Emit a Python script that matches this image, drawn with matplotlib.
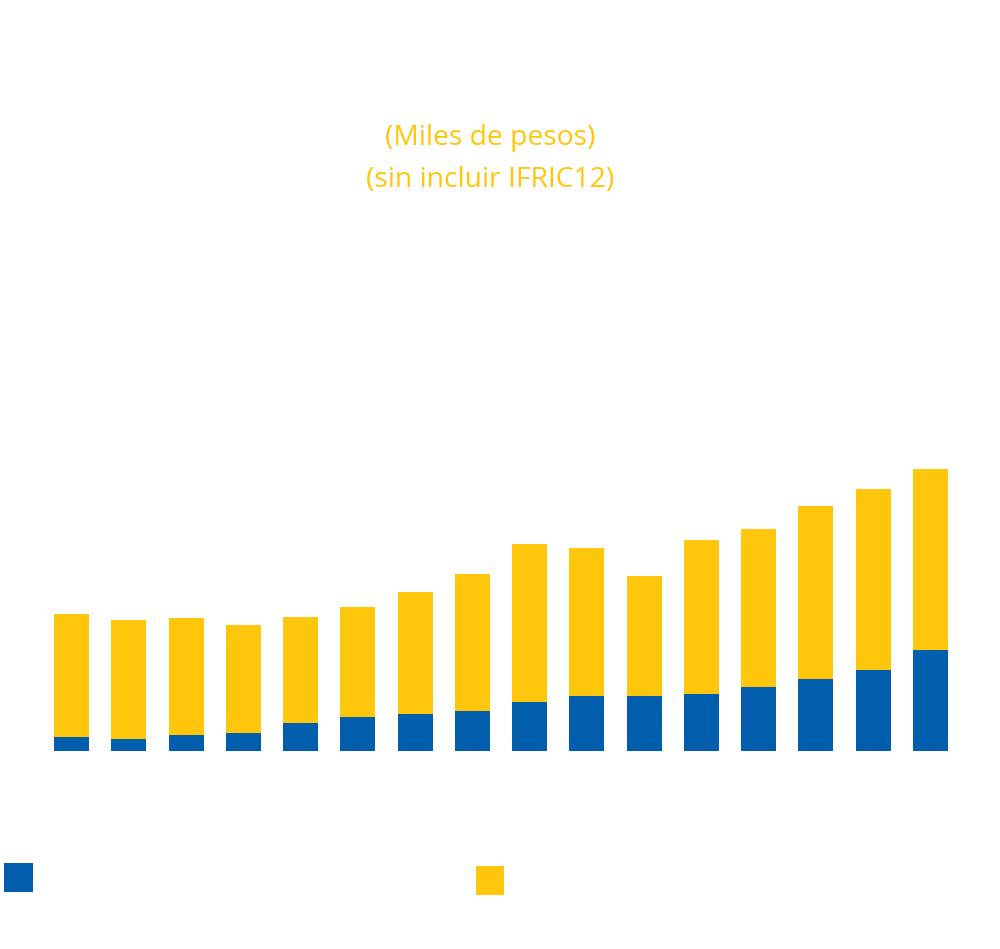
import matplotlib
matplotlib.use("Agg")
import matplotlib.pyplot as plt
from matplotlib.patches import Rectangle
import numpy as np

# Data (arbitrary units)
categories = [str(i) for i in range(1, 17)]
serie_azul = [143, 117, 157, 177, 277, 337, 367, 397, 490, 547, 547, 573, 637, 723, 813, 1010]
serie_amarilla = [1224, 1190, 1170, 1083, 1063, 1103, 1223, 1373, 1580, 1483, 1206, 1537, 1583, 1724, 1807, 1810]
subtitle_lines = ["(Miles de pesos)", "(sin incluir IFRIC12)"]

BLUE = "#005EAC"
YELLOW = "#FFC60B"

W, H = 1000, 949
fig = plt.figure(figsize=(W / 100, H / 100), dpi=100)
fig.patch.set_facecolor("white")

# axes: baseline at y=751 px, top at y=300 px
ax = fig.add_axes([0.0, (H - 751) / H, 1.0, 451 / H])
x = np.arange(len(categories))
step = (930.5 - 71.5) / 15
ax.set_xlim(-71.5 / step, (W - 71.5) / step)
ax.set_ylim(0, 4510)

bw = 35 / step
ax.bar(x, serie_azul, width=bw, color=BLUE, linewidth=0)
ax.bar(x, serie_amarilla, width=bw, bottom=serie_azul, color=YELLOW, linewidth=0)

ax.axis("off")

# subtitle
fig.text(490 / W, 1 - 138 / H, subtitle_lines[0], ha="center", va="center",
         color=YELLOW, fontsize=20.3, family="Open Sans")
fig.text(490 / W, 1 - 180 / H, subtitle_lines[1], ha="center", va="center",
         color=YELLOW, fontsize=20.3, family="Open Sans")

# legend swatches
fig.add_artist(Rectangle((4 / W, 1 - 892 / H), 29 / W, 29 / H,
                         transform=fig.transFigure, color=BLUE, lw=0))
fig.add_artist(Rectangle((476 / W, 1 - 895 / H), 28 / W, 29 / H,
                         transform=fig.transFigure, color=YELLOW, lw=0))

fig.savefig("out.png", dpi=100, facecolor="white")
